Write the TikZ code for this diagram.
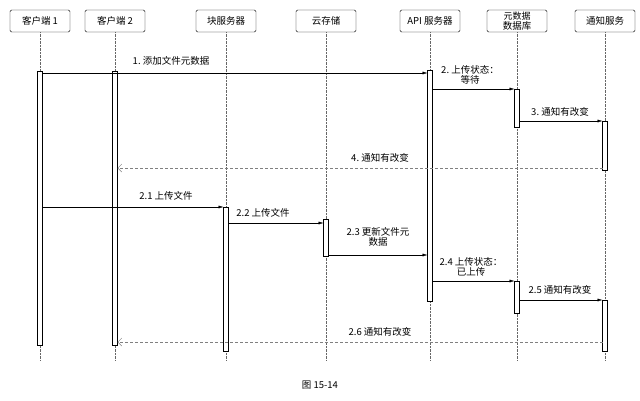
\documentclass[tikz,border=0pt]{standalone}
\usepackage{fontspec}
\newfontfamily\cjk{Noto Sans CJK SC}
\usetikzlibrary{arrows.meta,calc}
\begin{document}
\begin{tikzpicture}
  [
    x=1pt, y=-1pt,
    font=\cjk\fontsize{9.5}{10.5}\selectfont,
    head/.style =
      {draw, rounded corners=1.5pt, minimum width=60pt, minimum height=22pt,
       inner sep=0.5pt, align=center, fill=white},
    life/.style = {densely dotted, gray!80!black},
    act/.style =
      {draw, fill=white, minimum width=5pt, inner sep=0pt, outer sep=0pt},
    msg/.style = {-{Latex[length=5pt,width=3pt]}, thin},
    ret/.style = {densely dashed, gray, -{Straight Barb[length=4pt]}},
    lab/.style = {inner sep=1pt, align=center}
  ]
  \useasboundingbox (0,0) rectangle (640,400);

  % lifelines
  \foreach \nm/\x/\txt in {c1/40/客户端 1, c2/115/客户端 2, blk/226/块服务器,
      cld/326/云存储, api/430/API 服务器,
      meta/517/{\fontsize{9}{10}\selectfont 元数据\\数据库},
      ntf/605/通知服务}
  {
    \node [head] (\nm) at (\x,21) {\txt};
    \draw [life] (\nm.south) -- (\x,360);
  }

  % activations
  \node [act, minimum height=274pt] (c1a)   at (40,208)  {};
  \node [act, minimum height=274pt] (c2a)   at (115,208) {};
  \node [act, minimum height=144pt] (blka)  at (226,279) {};
  \node [act, minimum height=37pt]  (clda)  at (326,237.5) {};
  \node [act, minimum height=231pt] (apia)  at (430,185.5) {};
  \node [act, minimum height=38pt]  (meta1) at (517,108) {};
  \node [act, minimum height=32pt]  (meta2) at (517,297) {};
  \node [act, minimum height=49pt]  (ntf1)  at (605,145.5) {};
  \node [act, minimum height=51pt]  (ntf2)  at (605,325.5) {};

  % message rows
  \coordinate (r1)  at (0,73);
  \coordinate (r2)  at (0,89);
  \coordinate (r3)  at (0,121);
  \coordinate (r4)  at (0,168);
  \coordinate (r21) at (0,207);
  \coordinate (r22) at (0,223);
  \coordinate (r23) at (0,255);
  \coordinate (r24) at (0,281);
  \coordinate (r25) at (0,300);
  \coordinate (r26) at (0,342);

  \draw [msg] (c1a.east |- r1) -- (apia.west |- r1);
  \draw [msg] (apia.east |- r2) -- (meta1.west |- r2);
  \draw [msg] (meta1.east |- r3) -- (ntf1.west |- r3);
  \draw [ret] (ntf1.west |- r4) -- (c2a.east |- r4);
  \draw [msg] (c1a.east |- r21) -- (blka.west |- r21);
  \draw [msg] (blka.east |- r22) -- (clda.west |- r22);
  \draw [msg] (clda.east |- r23) -- (apia.west |- r23);
  \draw [msg] (apia.east |- r24) -- (meta2.west |- r24);
  \draw [msg] (meta2.east |- r25) -- (ntf2.west |- r25);
  \draw [ret] (ntf2.west |- r26) -- (c2a.east |- r26);

  % labels
  \node [lab] (l1)  at (171,61)  {1.\ 添加文件元数据};
  \node [lab] (l2)  at (470,75)  {2.\ 上传状态：\\等待};
  \node [lab] (l3)  at (560,112) {3.\ 通知有改变};
  \node [lab] (l4)  at (380,158) {4.\ 通知有改变};
  \node [lab] (l21) at (166,196) {2.1 上传文件};
  \node [lab] (l22) at (263,213) {2.2 上传文件};
  \node [lab] (l23) at (378,237) {2.3 更新文件元\\数据};
  \node [lab] (l24) at (471,267) {2.4 上传状态：\\已上传};
  \node [lab] (l25) at (560,290) {2.5 通知有改变};
  \node [lab] (l26) at (380,332) {2.6 通知有改变};

  \node [lab] (cap) at (320,385) {图 15-14};
\end{tikzpicture}
\end{document}
